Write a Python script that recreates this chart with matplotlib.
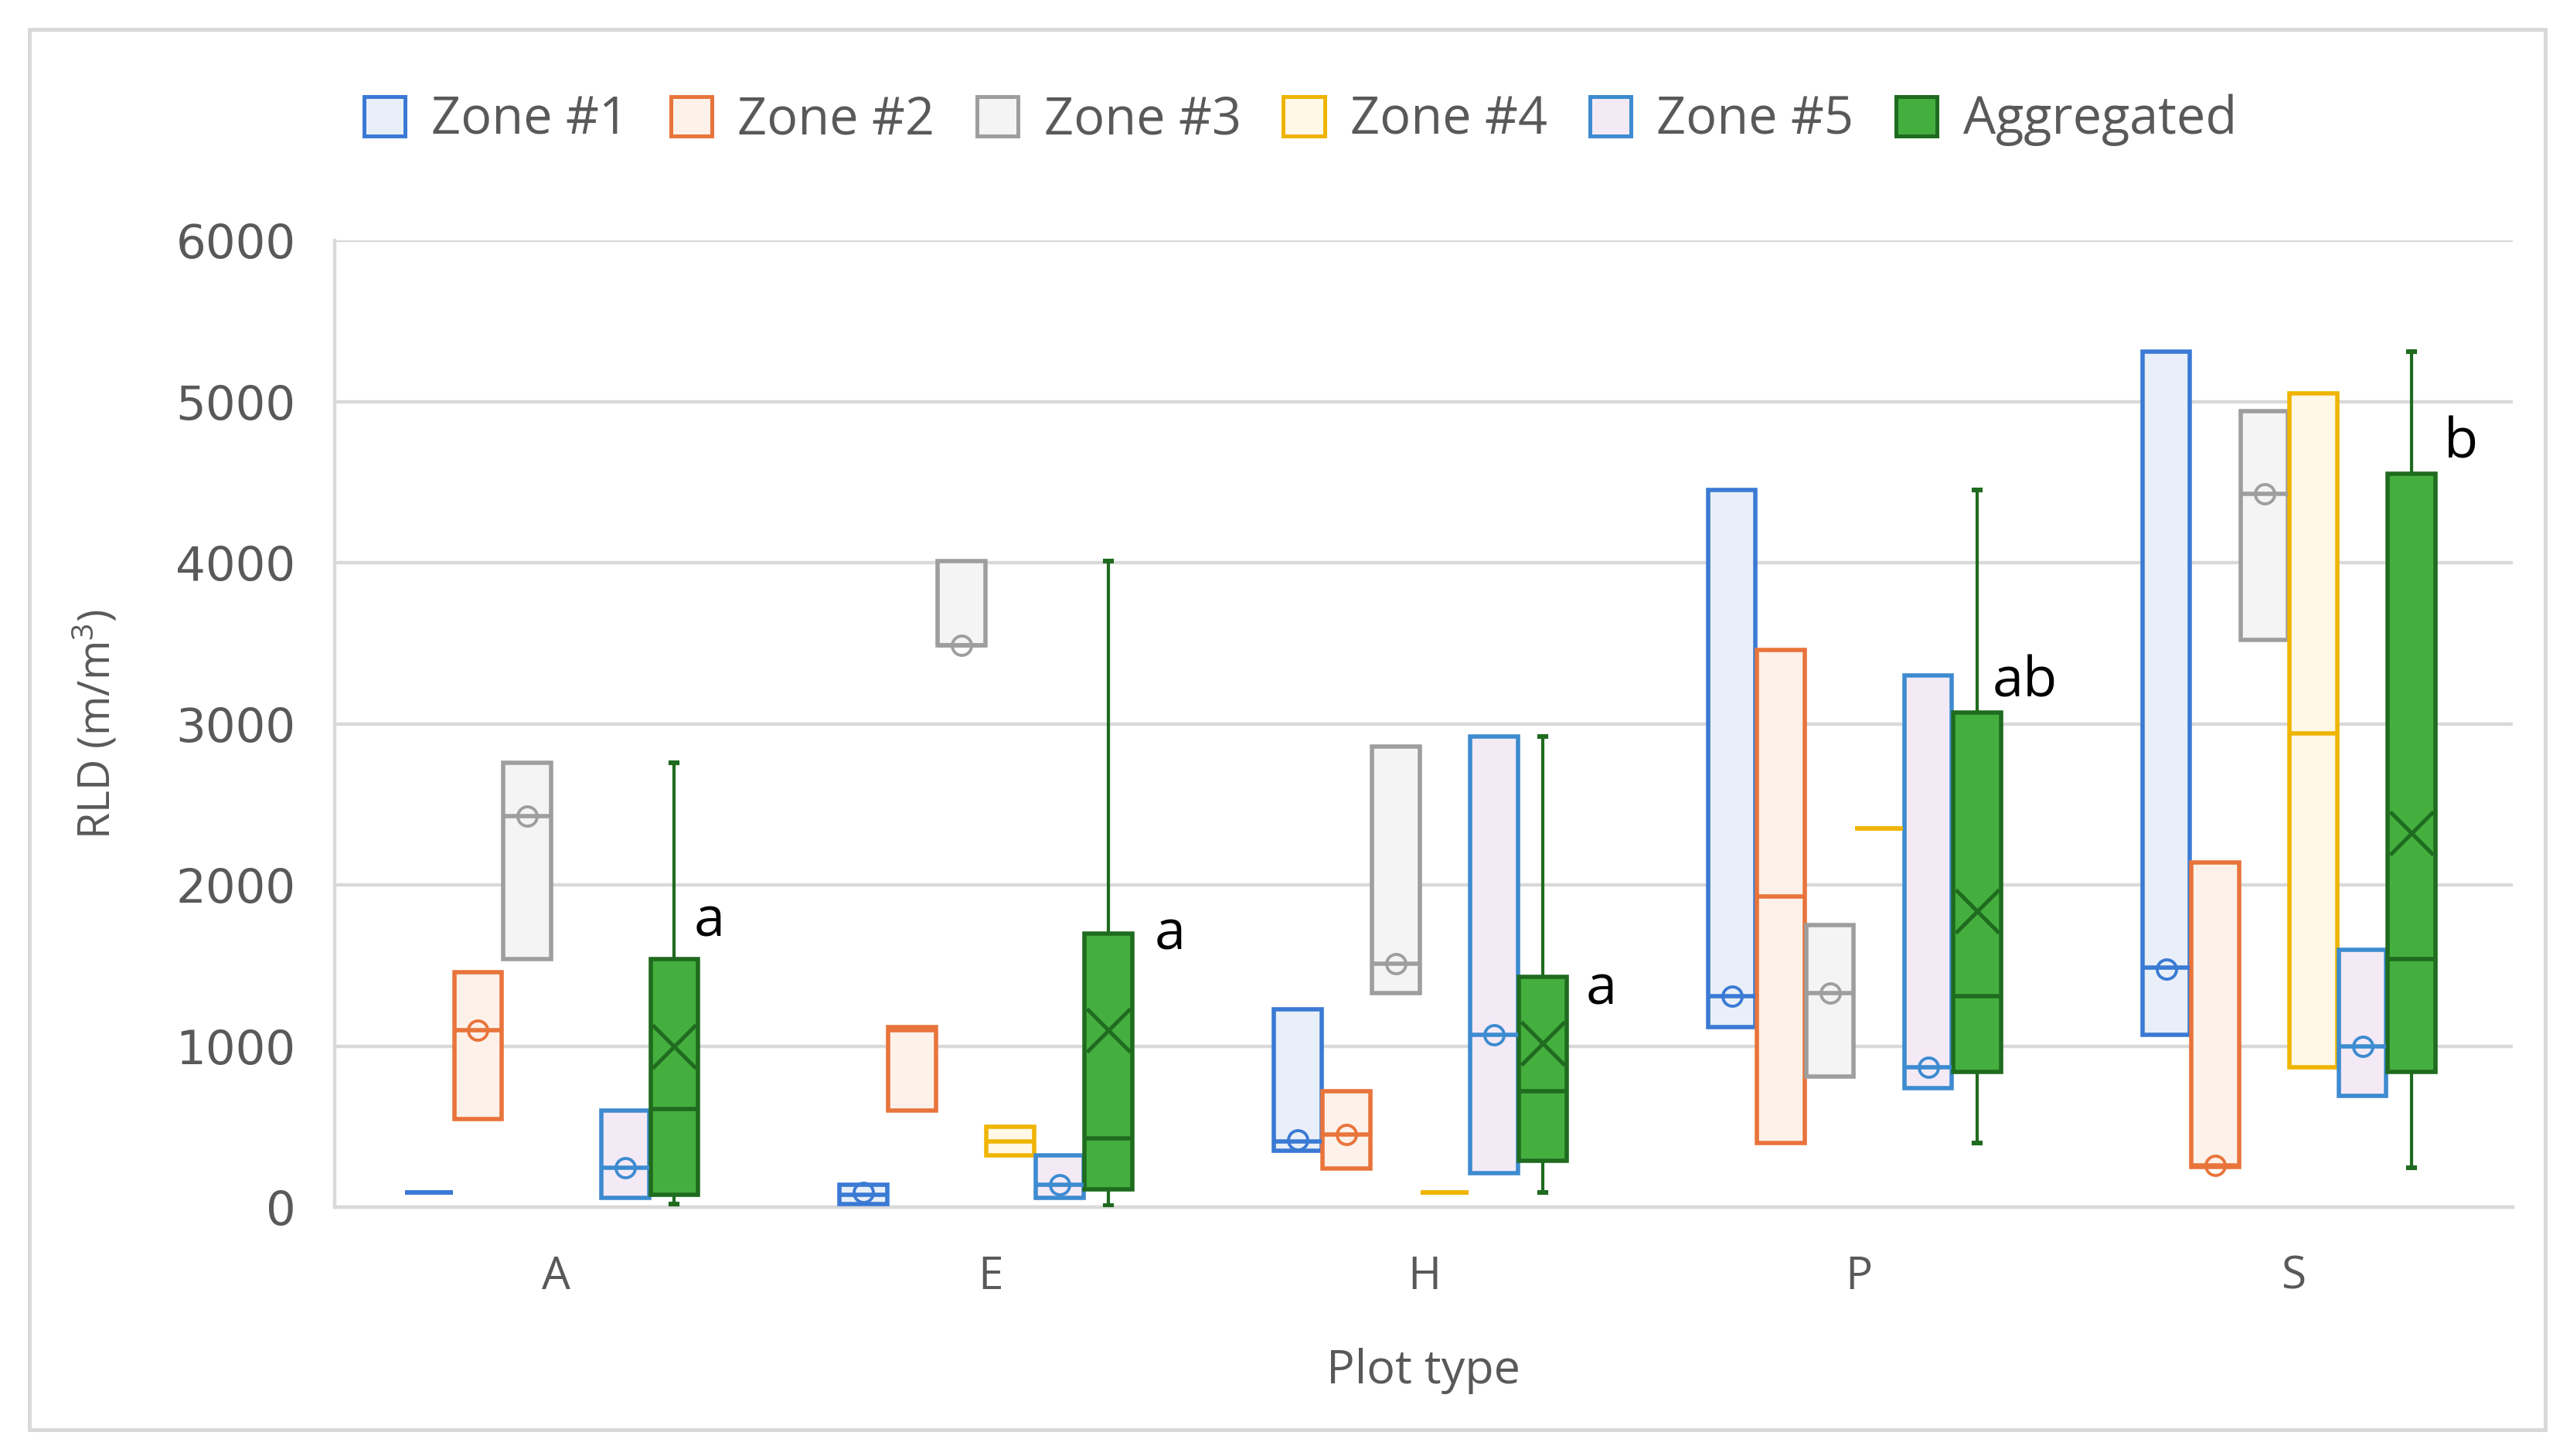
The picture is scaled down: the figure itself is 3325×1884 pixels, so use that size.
import numpy as np
import matplotlib
matplotlib.use('Agg')
import matplotlib.pyplot as plt
from matplotlib.patches import Patch, Rectangle

# ---------------- data ----------------
plot_types = ['A', 'E', 'H', 'P', 'S']
series_names = ['Zone #1', 'Zone #2', 'Zone #3', 'Zone #4', 'Zone #5', 'Aggregated']
nan = np.nan

zone1_q1 = [90, 20, 350, 1120, 1070]
zone1_med = [90, 80, 410, 1310, 1490]
zone1_q3 = [90, 140, 1230, 4450, 5310]
zone1_mean = [nan, 90, 420, 1310, 1480]

zone2_q1 = [550, 600, 240, 400, 250]
zone2_med = [1100, 1100, 450, 1930, 260]
zone2_q3 = [1460, 1120, 720, 3460, 2140]
zone2_mean = [1100, nan, 450, nan, 260]

zone3_q1 = [1540, 3490, 1330, 810, 3520]
zone3_med = [2430, 3490, 1510, 1330, 4430]
zone3_q3 = [2760, 4010, 2860, 1750, 4940]
zone3_mean = [2430, 3490, 1510, 1330, 4430]

zone4_q1 = [nan, 320, 90, 2350, 870]
zone4_med = [nan, 410, 90, 2350, 2940]
zone4_q3 = [nan, 500, 90, 2350, 5050]
zone4_mean = [nan, nan, nan, nan, nan]

zone5_q1 = [60, 60, 210, 740, 690]
zone5_med = [245, 140, 1070, 870, 1000]
zone5_q3 = [600, 320, 2920, 3300, 1600]
zone5_mean = [245, 140, 1070, 870, 1000]

agg_whislo = [20, 10, 90, 400, 245]
agg_q1 = [80, 110, 290, 840, 840]
agg_med = [610, 430, 720, 1310, 1540]
agg_q3 = [1540, 1700, 1430, 3070, 4550]
agg_whishi = [2760, 4010, 2920, 4450, 5310]
agg_mean = [1000, 1100, 1020, 1840, 2320]

sig_letters = ['a', 'a', 'a', 'ab', 'b']
sig_label_y = [1770, 1690, 1350, 3260, 4740]
sig_label_dx = [0.045, 0.106, 0.098, 0.034, 0.075]

# ---------------- style ----------------
edge_colors = ['#3A7AD4', '#E8743B', '#9E9E9E', '#EFB400', '#3D8BD0', '#1F6B1F']
fill_colors = ['#E9EFF8', '#FDF1EA', '#F4F4F4', '#FFF8E6', '#F3EAF6', '#44AF3E']
text_gray = '#595959'
grid_gray = '#D9D9D9'

plt.rcParams['font.family'] = ['Open Sans', 'DejaVu Sans']
plt.rcParams['mathtext.default'] = 'regular'

fig = plt.figure(figsize=(16.625, 9.42), dpi=200)
fig.patch.set_facecolor('white')

# outer chart border
fig.patches.append(Rectangle((18 / 1568, 1 - 868 / 884), (1553 - 18) / 1568, (868 - 18) / 884,
                             transform=fig.transFigure, fill=False, edgecolor=grid_gray,
                             linewidth=1.8, zorder=0))

ax = fig.add_axes([204 / 1568, 1 - 733 / 884, (1533 - 204) / 1568, (733 - 146) / 884])

x = np.arange(len(plot_types))
w = 0.113
shift = -0.01

zones = [
    (zone1_q1, zone1_med, zone1_q3, zone1_mean),
    (zone2_q1, zone2_med, zone2_q3, zone2_mean),
    (zone3_q1, zone3_med, zone3_q3, zone3_mean),
    (zone4_q1, zone4_med, zone4_q3, zone4_mean),
    (zone5_q1, zone5_med, zone5_q3, zone5_mean),
]

for i, (q1, med, q3, mean) in enumerate(zones):
    stats, pos, mpos, mvals = [], [], [], []
    for j in range(len(plot_types)):
        if np.isnan(q1[j]):
            continue
        stats.append(dict(q1=q1[j], med=med[j], q3=q3[j], whislo=q1[j], whishi=q3[j], fliers=[]))
        p = x[j] + (i - 2.5) * w + shift
        pos.append(p)
        if not np.isnan(mean[j]):
            mpos.append(p)
            mvals.append(mean[j])
    ax.bxp(stats, positions=pos, widths=w * 0.97, patch_artist=True, showcaps=False,
           showfliers=False, manage_ticks=False,
           boxprops=dict(facecolor=fill_colors[i], edgecolor=edge_colors[i], linewidth=2.0),
           medianprops=dict(color=edge_colors[i], linewidth=2.0),
           whiskerprops=dict(color=edge_colors[i], linewidth=0),
           zorder=3)
    ax.plot(mpos, mvals, 'o', ms=9, mfc='none', mec=edge_colors[i], mew=1.4, zorder=4)

# aggregated
agg_stats = [dict(q1=agg_q1[j], med=agg_med[j], q3=agg_q3[j], whislo=agg_whislo[j],
                  whishi=agg_whishi[j], fliers=[]) for j in range(len(plot_types))]
agg_pos = x + 2.5 * w + shift
ax.bxp(agg_stats, positions=agg_pos, widths=w * 0.97, patch_artist=True, showfliers=False,
       manage_ticks=False, capwidths=0.014,
       boxprops=dict(facecolor=fill_colors[5], edgecolor=edge_colors[5], linewidth=2.0),
       medianprops=dict(color=edge_colors[5], linewidth=2.0),
       whiskerprops=dict(color=edge_colors[5], linewidth=1.5),
       capprops=dict(color=edge_colors[5], linewidth=2.2),
       zorder=3)
ax.plot(agg_pos, agg_mean, 'x', ms=20, mec=edge_colors[5], mew=1.8, zorder=4)

# significance letters
for j, (lab, ly, dx) in enumerate(zip(sig_letters, sig_label_y, sig_label_dx)):
    ax.text(agg_pos[j] + dx, ly, lab, fontsize=26, color='black', ha='left', va='center',
            zorder=5)

# axes styling
ax.set_xlim(-0.51, 4.505)
ax.set_ylim(0, 6000)
ax.set_yticks(np.arange(0, 6001, 1000))
ax.set_xticks(x)
ax.set_xticklabels(plot_types)
ax.yaxis.grid(True, color=grid_gray, linewidth=1.6)
ax.set_axisbelow(True)
for s in ['top', 'right']:
    ax.spines[s].set_visible(False)
for s in ['left', 'bottom']:
    ax.spines[s].set_color(grid_gray)
    ax.spines[s].set_linewidth(1.6)
ax.tick_params(axis='both', length=0, colors=text_gray)
ax.tick_params(axis='y', pad=18)
ax.tick_params(axis='x', pad=22, labelsize=21)
for t in ax.get_yticklabels():
    t.set_fontfamily('DejaVu Sans')
    t.set_fontsize(22)

ax.set_xlabel('Plot type', fontsize=22, color=text_gray)
ax.xaxis.set_label_coords(0.5, -0.145)
ax.set_ylabel('RLD (m/m$^{3}$)', fontsize=20, color=text_gray)
ax.yaxis.set_label_coords(-0.098, 0.5)

# legend
handles = [Patch(facecolor=fill_colors[i], edgecolor=edge_colors[i], linewidth=1.8)
           for i in range(len(series_names))]
leg = fig.legend(handles, series_names, loc='center', bbox_to_anchor=(0.506, 1 - 73 / 884),
                 ncol=6, frameon=False, fontsize=24, handlelength=0.8, handleheight=0.8,
                 handletextpad=0.5, columnspacing=0.82)
for t in leg.get_texts():
    t.set_color(text_gray)

fig.savefig('out.png', dpi=200, facecolor='white')
